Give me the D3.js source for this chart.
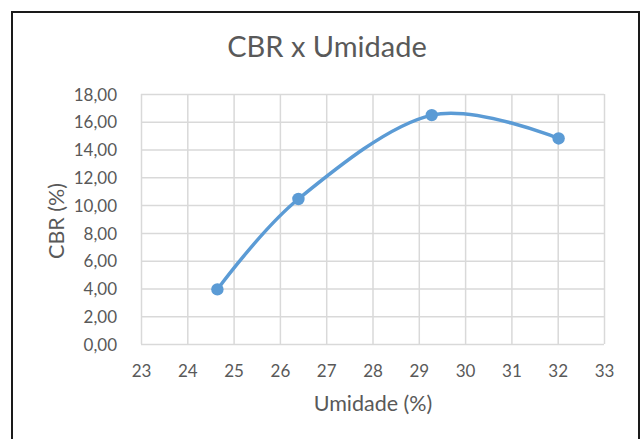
<!DOCTYPE html>
<html>
<head>
<meta charset="utf-8">
<script src="https://cdn.jsdelivr.net/npm/d3@7"></script>
<style>
  html, body { margin: 0; padding: 0; background: #fff; }
  svg { display: block; }
  text { font-family: Lato, "Open Sans", "Liberation Sans", sans-serif; fill: #595959; }
</style>
</head>
<body>
<svg id="chart" width="640" height="439"></svg>
<script>
// CBR versus moisture content
const umidade = [24.65, 26.40, 29.28, 32.02];
const cbr = [3.93, 10.44, 16.48, 14.80];
const xTicks = [23, 24, 25, 26, 27, 28, 29, 30, 31, 32, 33];
const yTicks = [0, 2, 4, 6, 8, 10, 12, 14, 16, 18];

const title = "CBR x Umidade";
const xTitle = "Umidade (%)";
const yTitle = "CBR (%)";

const svg = d3.select("#chart");
const W = 640, H = 439;
const plot = { left: 141, right: 604, top: 94, bottom: 344 };

// outer frame
svg.append("rect")
  .attr("x", 12).attr("y", 12)
  .attr("width", W - 12 - 1).attr("height", H)
  .attr("fill", "#fff")
  .attr("stroke", "#1a1a1a").attr("stroke-width", 2);

const x = d3.scaleLinear().domain([23, 33]).range([plot.left, plot.right]);
const y = d3.scaleLinear().domain([0, 18]).range([plot.bottom, plot.top]);

const fmt = v => d3.format(".2f")(v).replace(".", ",");

// gridlines via axes
svg.append("g")
  .attr("transform", `translate(0,${plot.bottom})`)
  .call(d3.axisBottom(x).tickValues(xTicks).tickSize(-(plot.bottom - plot.top)).tickFormat(""))
  .call(g => g.select(".domain").remove())
  .call(g => g.selectAll("line").attr("stroke", "#d9d9d9").attr("stroke-width", 1.5));

svg.append("g")
  .attr("transform", `translate(${plot.left},0)`)
  .call(d3.axisLeft(y).tickValues(yTicks).tickSize(-(plot.right - plot.left)).tickFormat(""))
  .call(g => g.select(".domain").remove())
  .call(g => g.selectAll("line").attr("stroke", "#d9d9d9").attr("stroke-width", 1.5));

// tick labels
svg.append("g")
  .attr("transform", `translate(0,${plot.bottom + 33})`)
  .call(d3.axisBottom(x).tickValues(xTicks).tickSize(0).tickPadding(0).tickFormat(d3.format("d")))
  .call(g => g.select(".domain").remove())
  .call(g => g.selectAll("text").attr("font-size", 17).attr("fill", "#595959").attr("font-family", null).attr("dy", 0));

svg.append("g")
  .attr("transform", `translate(${plot.left - 24},0)`)
  .call(d3.axisLeft(y).tickValues(yTicks).tickSize(0).tickPadding(0).tickFormat(fmt))
  .call(g => g.select(".domain").remove())
  .call(g => g.selectAll("text").attr("font-size", 17).attr("fill", "#595959").attr("font-family", null).attr("dy", "0.36em"));

// titles
svg.append("text")
  .attr("x", 327).attr("y", 57)
  .attr("text-anchor", "middle")
  .attr("font-size", 29)
  .text(title);

svg.append("text")
  .attr("x", 373).attr("y", 411)
  .attr("text-anchor", "middle")
  .attr("font-size", 21.5)
  .text(xTitle);

svg.append("text")
  .attr("transform", `translate(64,221) rotate(-90)`)
  .attr("text-anchor", "middle")
  .attr("font-size", 21.5)
  .text(yTitle);

// smoothed series line
const pts = umidade.map((u, i) => [u, cbr[i]]);
const line = d3.line()
  .x(d => x(d[0])).y(d => y(d[1]))
  .curve(d3.curveCardinal.tension(0));

svg.append("path")
  .datum(pts)
  .attr("d", line)
  .attr("fill", "none")
  .attr("stroke", "#5b9bd5")
  .attr("stroke-width", 3.5)
  .attr("stroke-linecap", "round");

svg.append("g").selectAll("circle")
  .data(pts)
  .join("circle")
  .attr("cx", d => x(d[0]))
  .attr("cy", d => y(d[1]))
  .attr("r", 6.2)
  .attr("fill", "#5b9bd5");
</script>
</body>
</html>
